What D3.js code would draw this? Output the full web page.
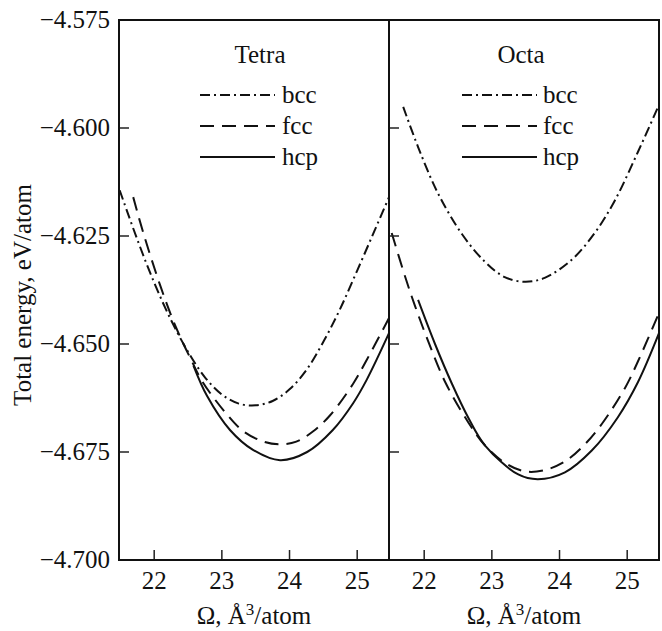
<!DOCTYPE html>
<html>
<head>
<meta charset="utf-8">
<script src="https://cdn.jsdelivr.net/npm/d3@7"></script>
<style>
  body { margin: 0; background: #fff; }
  svg text { font-family: "Liberation Serif", "DejaVu Serif", serif; fill: #111; }
</style>
</head>
<body>
<svg id="chart"></svg>
<script>
const WIDTH = 662;
const HEIGHT = 631;

// --- data: [volume Å^3/atom, energy eV/atom] ---
const panels = ["Tetra", "Octa"];
const phases = ["bcc", "fcc", "hcp"];
const xTicks = [22, 23, 24, 25];
const yTicks = [-4.575, -4.600, -4.625, -4.650, -4.675, -4.700];

const tetraBcc = [[21.49, -4.6144], [21.75, -4.6258], [22.00, -4.6358], [22.25, -4.6445], [22.50, -4.6518],
  [22.75, -4.6577], [23.00, -4.6617], [23.25, -4.6638], [23.50, -4.6642], [23.75, -4.6632],
  [24.00, -4.6605], [24.25, -4.6560], [24.50, -4.6495], [24.75, -4.6418], [25.00, -4.6330],
  [25.25, -4.6240], [25.47, -4.6160]];
const tetraFcc = [[21.69, -4.6160], [21.83, -4.6238], [22.09, -4.6365], [22.31, -4.6457], [22.56, -4.6541],
  [22.72, -4.6589], [23.08, -4.6664], [23.31, -4.6701], [23.60, -4.6725], [23.85, -4.6732],
  [24.10, -4.6726], [24.35, -4.6702], [24.60, -4.6665], [24.94, -4.6592], [25.14, -4.6537], [25.47, -4.6440]];
const tetraHcp = [[22.58, -4.6550], [22.78, -4.6620], [23.12, -4.6699], [23.46, -4.6745], [23.86, -4.6769],
  [24.26, -4.6750], [24.64, -4.6699], [24.94, -4.6637], [25.14, -4.6583], [25.47, -4.6475]];

const octaBcc = [[21.69, -4.5951], [21.91, -4.6044], [22.20, -4.6150], [22.56, -4.6246], [22.90, -4.6310],
  [23.19, -4.6345], [23.49, -4.6356], [23.78, -4.6347], [24.18, -4.6305], [24.52, -4.6243],
  [24.81, -4.6170], [25.16, -4.6055], [25.46, -4.5950]];
const octaFcc = [[21.52, -4.6243], [21.72, -4.6345], [21.86, -4.6410], [22.06, -4.6494], [22.31, -4.6588],
  [22.65, -4.6681], [22.90, -4.6735], [23.20, -4.6776], [23.49, -4.6795], [23.78, -4.6792], [24.08, -4.6772],
  [24.37, -4.6733], [24.63, -4.6684], [24.97, -4.6601], [25.16, -4.6540], [25.47, -4.6428]];
const octaHcp = [[21.91, -4.6398], [22.16, -4.6500], [22.41, -4.6592], [22.65, -4.6670], [22.90, -4.6735],
  [23.39, -4.6802], [23.68, -4.6813], [24.08, -4.6797], [24.48, -4.6746], [24.86, -4.6670],
  [25.16, -4.6588], [25.47, -4.6475]];

const curves = {
  Tetra: { bcc: tetraBcc, fcc: tetraFcc, hcp: tetraHcp },
  Octa: { bcc: octaBcc, fcc: octaFcc, hcp: octaHcp }
};

// --- layout ---
const plotTop = 20, plotBottom = 560;
const panelLeft = { Tetra: 119, Octa: 389 };
const panelW = 270;
// legend placement inside each panel (offsets from panel left)
const legendPos = {
  Tetra: { title: 141, x0: 81, x1: 156, text: 163 },
  Octa: { title: 132, x0: 73, x1: 148, text: 154 }
};
const dashes = { bcc: "10,4,2,4", fcc: "14,8", hcp: null };

const svg = d3.select("#chart")
  .attr("width", WIDTH)
  .attr("height", HEIGHT);

const y = d3.scaleLinear().domain([-4.700, -4.575]).range([plotBottom, plotTop]);
const fmt = d3.format(".3f");

panels.forEach(p => {
  const x = d3.scaleLinear().domain([21.48, 25.47]).range([panelLeft[p], panelLeft[p] + panelW]);
  const g = svg.append("g").attr("class", "panel");

  // curves
  const line = d3.line()
    .x(d => x(d[0]))
    .y(d => y(d[1]))
    .curve(d3.curveCatmullRom.alpha(0.5));

  phases.forEach(ph => {
    g.append("path")
      .datum(curves[p][ph])
      .attr("d", line)
      .attr("fill", "none")
      .attr("stroke", "#111")
      .attr("stroke-width", 2)
      .attr("stroke-dasharray", dashes[ph]);
  });

  // inward ticks
  g.selectAll(".ytick").data(yTicks).join("line")
    .attr("x1", panelLeft[p]).attr("x2", panelLeft[p] + 10)
    .attr("y1", d => y(d)).attr("y2", d => y(d))
    .attr("stroke", "#222").attr("stroke-width", 1.5);

  g.selectAll(".xtick").data(xTicks).join("line")
    .attr("x1", d => x(d)).attr("x2", d => x(d))
    .attr("y1", plotBottom).attr("y2", plotBottom - 10)
    .attr("stroke", "#222").attr("stroke-width", 1.5);

  g.selectAll(".xlabel").data(xTicks).join("text")
    .attr("x", d => x(d))
    .attr("y", 589)
    .attr("text-anchor", "middle")
    .attr("font-size", 25)
    .text(d => d);

  // frame
  g.append("rect")
    .attr("x", panelLeft[p]).attr("y", plotTop)
    .attr("width", panelW).attr("height", plotBottom - plotTop)
    .attr("fill", "none")
    .attr("stroke", "#111")
    .attr("stroke-width", 2);

  // x title
  const xt = g.append("text")
    .attr("x", panelLeft[p] + panelW / 2)
    .attr("y", 624)
    .attr("text-anchor", "middle")
    .attr("font-size", 25);
  xt.append("tspan").text("Ω, Å");
  xt.append("tspan").attr("dy", -9).attr("font-size", 17).text("3");
  xt.append("tspan").attr("dy", 9).text("/atom");

  // legend
  const lp = legendPos[p];
  const L = panelLeft[p];
  g.append("text")
    .attr("x", L + lp.title).attr("y", 63)
    .attr("text-anchor", "middle")
    .attr("font-size", 25)
    .text(p);

  phases.forEach((ph, i) => {
    const ly = 95 + i * 31;
    g.append("line")
      .attr("x1", L + lp.x0).attr("x2", L + lp.x1)
      .attr("y1", ly).attr("y2", ly)
      .attr("stroke", "#111")
      .attr("stroke-width", 2.2)
      .attr("stroke-dasharray", dashes[ph]);
    g.append("text")
      .attr("x", L + lp.text).attr("y", ly + 8)
      .attr("font-size", 25)
      .text(ph);
  });
});

// y tick labels (left panel only)
svg.selectAll(".ylabel").data(yTicks).join("text")
  .attr("x", 110)
  .attr("y", d => y(d) + 8)
  .attr("text-anchor", "end")
  .attr("font-size", 25)
  .text(d => fmt(d));

// y title
svg.append("text")
  .attr("transform", `translate(31, ${(plotTop + plotBottom) / 2 + 5}) rotate(-90)`)
  .attr("text-anchor", "middle")
  .attr("font-size", 25)
  .text("Total energy, eV/atom");
</script>
</body>
</html>
